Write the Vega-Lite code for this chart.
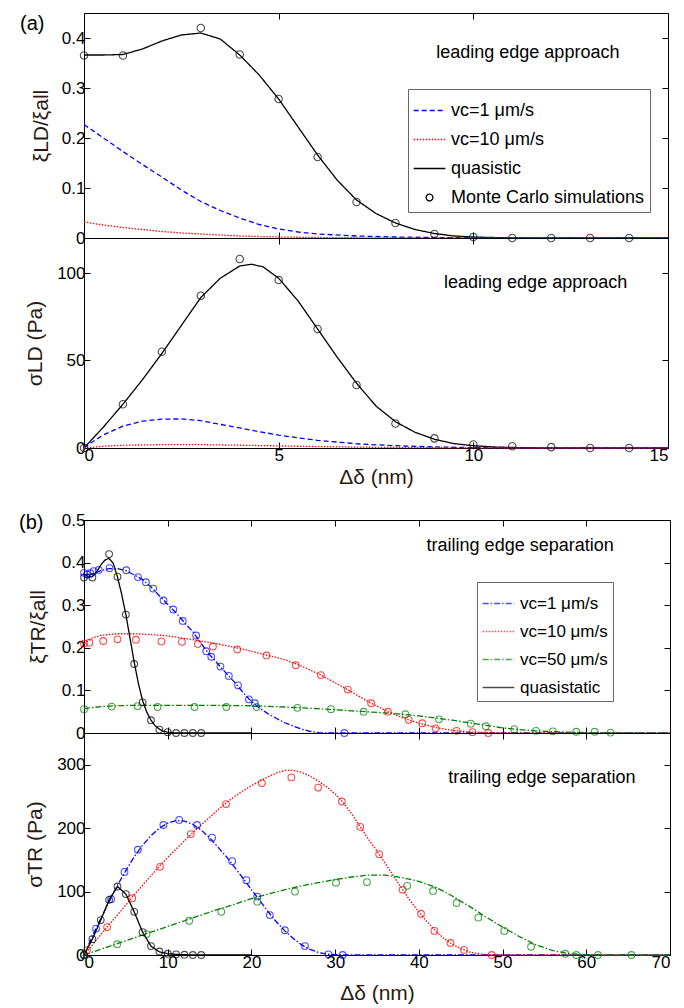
{
  "$schema": "https://vega.github.io/schema/vega-lite/v6.json",
  "background": "white",
  "padding": {"left": 18, "top": 12, "right": 10, "bottom": 4},
  "config": {
    "font": "Liberation Sans",
    "view": {"stroke": "black", "strokeWidth": 1},
    "axis": {"grid": false, "domain": false, "tickColor": "black", "tickSize": -6, "tickWidth": 1, "labelFont": "Liberation Sans", "labelFontSize": 17, "labelColor": "black", "labelPadding": 5, "titleFont": "Liberation Sans", "titleFontSize": 21, "titleFontWeight": "normal", "titleColor": "#2b1a12"},
    "legend": {"orient": "none", "title": null, "labelFont": "Liberation Sans", "labelFontSize": 18, "labelColor": "black", "labelLimit": 0, "symbolType": "stroke", "symbolSize": 1000, "symbolStrokeWidth": 1.3, "strokeColor": "#666", "fillColor": "white", "padding": 5, "labelOffset": 5, "rowPadding": 3}
  },
  "datasets": {
    "a1L": [
      {"x":0,"y":0.366,"s":"q"},{"x":0.5,"y":0.366,"s":"q"},{"x":1,"y":0.367,"s":"q"},{"x":1.5,"y":0.378,"s":"q"},{"x":2,"y":0.394,"s":"q"},{"x":2.5,"y":0.406,"s":"q"},{"x":3,"y":0.41,"s":"q"},{"x":3.5,"y":0.398,"s":"q"},{"x":4,"y":0.366,"s":"q"},{"x":4.5,"y":0.326,"s":"q"},{"x":5,"y":0.278,"s":"q"},{"x":5.5,"y":0.222,"s":"q"},{"x":6,"y":0.166,"s":"q"},{"x":6.5,"y":0.116,"s":"q"},{"x":7,"y":0.076,"s":"q"},{"x":7.5,"y":0.049,"s":"q"},{"x":8,"y":0.03,"s":"q"},{"x":8.5,"y":0.017,"s":"q"},{"x":9,"y":0.009,"s":"q"},{"x":9.5,"y":0.004,"s":"q"},{"x":10,"y":0.002,"s":"q"},{"x":10.5,"y":0.001,"s":"q"},{"x":11,"y":0,"s":"q"},{"x":15,"y":0,"s":"q"},
      {"x":0,"y":0.227,"s":"v1"},{"x":0.5,"y":0.2,"s":"v1"},{"x":1,"y":0.173,"s":"v1"},{"x":1.5,"y":0.147,"s":"v1"},{"x":2,"y":0.122,"s":"v1"},{"x":2.5,"y":0.096,"s":"v1"},{"x":3,"y":0.073,"s":"v1"},{"x":3.5,"y":0.055,"s":"v1"},{"x":4,"y":0.04,"s":"v1"},{"x":4.5,"y":0.027,"s":"v1"},{"x":5,"y":0.018,"s":"v1"},{"x":5.5,"y":0.012,"s":"v1"},{"x":6,"y":0.008,"s":"v1"},{"x":7,"y":0.004,"s":"v1"},{"x":8,"y":0.002,"s":"v1"},{"x":9,"y":0.001,"s":"v1"},{"x":10,"y":0.0005,"s":"v1"},{"x":11,"y":0,"s":"v1"},{"x":15,"y":0,"s":"v1"},
      {"x":0,"y":0.032,"s":"v10"},{"x":0.5,"y":0.026,"s":"v10"},{"x":1,"y":0.021,"s":"v10"},{"x":1.5,"y":0.017,"s":"v10"},{"x":2,"y":0.013,"s":"v10"},{"x":2.5,"y":0.01,"s":"v10"},{"x":3,"y":0.008,"s":"v10"},{"x":4,"y":0.004,"s":"v10"},{"x":5,"y":0.002,"s":"v10"},{"x":6,"y":0.001,"s":"v10"},{"x":7,"y":0.0005,"s":"v10"},{"x":8,"y":0,"s":"v10"},{"x":15,"y":0,"s":"v10"}
    ],
    "a1P": [
      {"x":0,"y":0.365,"s":"mc"},{"x":1,"y":0.365,"s":"mc"},{"x":3,"y":0.42,"s":"mc"},{"x":4,"y":0.367,"s":"mc"},{"x":5,"y":0.278,"s":"mc"},{"x":6,"y":0.162,"s":"mc"},{"x":7,"y":0.072,"s":"mc"},{"x":8,"y":0.03,"s":"mc"},{"x":9,"y":0.008,"s":"mc"},{"x":10,"y":0.002,"s":"mc"},{"x":11,"y":0,"s":"mc"},{"x":12,"y":0,"s":"mc"},{"x":13,"y":0,"s":"mc"},{"x":14,"y":0,"s":"mc"}
    ],
    "a2L": [
      {"x":0,"y":0,"s":"q"},{"x":0.5,"y":12,"s":"q"},{"x":1,"y":25,"s":"q"},{"x":1.5,"y":39,"s":"q"},{"x":2,"y":54,"s":"q"},{"x":2.5,"y":70,"s":"q"},{"x":3,"y":86,"s":"q"},{"x":3.5,"y":97,"s":"q"},{"x":4,"y":104,"s":"q"},{"x":4.3,"y":105,"s":"q"},{"x":4.6,"y":103.5,"s":"q"},{"x":5,"y":97,"s":"q"},{"x":5.5,"y":84,"s":"q"},{"x":6,"y":68,"s":"q"},{"x":6.5,"y":52,"s":"q"},{"x":7,"y":37,"s":"q"},{"x":7.5,"y":24,"s":"q"},{"x":8,"y":15,"s":"q"},{"x":8.5,"y":9,"s":"q"},{"x":9,"y":5,"s":"q"},{"x":9.5,"y":2.5,"s":"q"},{"x":10,"y":1.3,"s":"q"},{"x":10.5,"y":0.6,"s":"q"},{"x":11,"y":0.3,"s":"q"},{"x":12,"y":0,"s":"q"},{"x":15,"y":0,"s":"q"},
      {"x":0,"y":0,"s":"v1"},{"x":0.25,"y":4,"s":"v1"},{"x":0.5,"y":7.5,"s":"v1"},{"x":1,"y":12.5,"s":"v1"},{"x":1.5,"y":15.3,"s":"v1"},{"x":2,"y":16.5,"s":"v1"},{"x":2.5,"y":16.6,"s":"v1"},{"x":3,"y":15.6,"s":"v1"},{"x":3.5,"y":13.5,"s":"v1"},{"x":4,"y":11.5,"s":"v1"},{"x":4.5,"y":9.3,"s":"v1"},{"x":5,"y":7.4,"s":"v1"},{"x":5.5,"y":5.8,"s":"v1"},{"x":6,"y":4.4,"s":"v1"},{"x":7,"y":2.4,"s":"v1"},{"x":8,"y":1.3,"s":"v1"},{"x":9,"y":0.6,"s":"v1"},{"x":10,"y":0.2,"s":"v1"},{"x":11,"y":0,"s":"v1"},{"x":15,"y":0,"s":"v1"},
      {"x":0,"y":0,"s":"v10"},{"x":0.5,"y":1,"s":"v10"},{"x":1,"y":1.6,"s":"v10"},{"x":2,"y":1.9,"s":"v10"},{"x":3,"y":1.9,"s":"v10"},{"x":4,"y":1.6,"s":"v10"},{"x":5,"y":1.2,"s":"v10"},{"x":6,"y":0.8,"s":"v10"},{"x":7,"y":0.5,"s":"v10"},{"x":8,"y":0.3,"s":"v10"},{"x":9,"y":0.15,"s":"v10"},{"x":10,"y":0.05,"s":"v10"},{"x":11,"y":0,"s":"v10"},{"x":15,"y":0,"s":"v10"}
    ],
    "a2P": [
      {"x":0,"y":0,"s":"mc"},{"x":1,"y":25,"s":"mc"},{"x":2,"y":55,"s":"mc"},{"x":3,"y":87,"s":"mc"},{"x":4,"y":108,"s":"mc"},{"x":5,"y":96,"s":"mc"},{"x":6,"y":68,"s":"mc"},{"x":7,"y":36,"s":"mc"},{"x":8,"y":14,"s":"mc"},{"x":9,"y":5.5,"s":"mc"},{"x":10,"y":2,"s":"mc"},{"x":11,"y":1,"s":"mc"},{"x":12,"y":0.5,"s":"mc"},{"x":13,"y":0,"s":"mc"},{"x":14,"y":0,"s":"mc"}
    ],
    "b1L": [
      {"x":0,"y":0.37,"s":"v1"},{"x":1,"y":0.374,"s":"v1"},{"x":2,"y":0.381,"s":"v1"},{"x":3,"y":0.386,"s":"v1"},{"x":4,"y":0.386,"s":"v1"},{"x":5,"y":0.381,"s":"v1"},{"x":6,"y":0.371,"s":"v1"},{"x":7,"y":0.36,"s":"v1"},{"x":8,"y":0.343,"s":"v1"},{"x":9,"y":0.322,"s":"v1"},{"x":10,"y":0.302,"s":"v1"},{"x":11,"y":0.282,"s":"v1"},{"x":12,"y":0.259,"s":"v1"},{"x":13,"y":0.238,"s":"v1"},{"x":14,"y":0.21,"s":"v1"},{"x":15,"y":0.184,"s":"v1"},{"x":16,"y":0.162,"s":"v1"},{"x":17,"y":0.14,"s":"v1"},{"x":18,"y":0.119,"s":"v1"},{"x":19,"y":0.095,"s":"v1"},{"x":20,"y":0.074,"s":"v1"},{"x":21,"y":0.058,"s":"v1"},{"x":22,"y":0.045,"s":"v1"},{"x":23,"y":0.034,"s":"v1"},{"x":24,"y":0.024,"s":"v1"},{"x":25,"y":0.016,"s":"v1"},{"x":26,"y":0.009,"s":"v1"},{"x":27,"y":0.004,"s":"v1"},{"x":28,"y":0.001,"s":"v1"},{"x":29,"y":0,"s":"v1"},{"x":70,"y":0,"s":"v1"},
      {"x":0,"y":0.21,"s":"v10"},{"x":1,"y":0.223,"s":"v10"},{"x":2,"y":0.229,"s":"v10"},{"x":4,"y":0.233,"s":"v10"},{"x":6,"y":0.233,"s":"v10"},{"x":8,"y":0.231,"s":"v10"},{"x":10,"y":0.228,"s":"v10"},{"x":12,"y":0.222,"s":"v10"},{"x":14,"y":0.216,"s":"v10"},{"x":16,"y":0.209,"s":"v10"},{"x":18,"y":0.201,"s":"v10"},{"x":20,"y":0.192,"s":"v10"},{"x":22,"y":0.182,"s":"v10"},{"x":24,"y":0.172,"s":"v10"},{"x":26,"y":0.157,"s":"v10"},{"x":28,"y":0.139,"s":"v10"},{"x":30,"y":0.118,"s":"v10"},{"x":32,"y":0.096,"s":"v10"},{"x":34,"y":0.073,"s":"v10"},{"x":36,"y":0.053,"s":"v10"},{"x":38,"y":0.036,"s":"v10"},{"x":40,"y":0.023,"s":"v10"},{"x":42,"y":0.013,"s":"v10"},{"x":44,"y":0.006,"s":"v10"},{"x":46,"y":0.0025,"s":"v10"},{"x":48,"y":0.001,"s":"v10"},{"x":50,"y":0,"s":"v10"},{"x":70,"y":0,"s":"v10"},
      {"x":0,"y":0.057,"s":"v50"},{"x":2,"y":0.062,"s":"v50"},{"x":4,"y":0.064,"s":"v50"},{"x":6,"y":0.065,"s":"v50"},{"x":10,"y":0.065,"s":"v50"},{"x":15,"y":0.065,"s":"v50"},{"x":20,"y":0.064,"s":"v50"},{"x":24,"y":0.061,"s":"v50"},{"x":28,"y":0.057,"s":"v50"},{"x":32,"y":0.052,"s":"v50"},{"x":36,"y":0.047,"s":"v50"},{"x":38,"y":0.044,"s":"v50"},{"x":40,"y":0.04,"s":"v50"},{"x":42,"y":0.035,"s":"v50"},{"x":44,"y":0.03,"s":"v50"},{"x":46,"y":0.024,"s":"v50"},{"x":48,"y":0.018,"s":"v50"},{"x":50,"y":0.012,"s":"v50"},{"x":52,"y":0.008,"s":"v50"},{"x":54,"y":0.005,"s":"v50"},{"x":56,"y":0.003,"s":"v50"},{"x":58,"y":0.002,"s":"v50"},{"x":60,"y":0.001,"s":"v50"},{"x":62,"y":0,"s":"v50"},{"x":70,"y":0,"s":"v50"},
      {"x":0,"y":0.366,"s":"q"},{"x":0.5,"y":0.366,"s":"q"},{"x":1,"y":0.367,"s":"q"},{"x":1.5,"y":0.378,"s":"q"},{"x":2,"y":0.394,"s":"q"},{"x":2.5,"y":0.406,"s":"q"},{"x":3,"y":0.41,"s":"q"},{"x":3.5,"y":0.398,"s":"q"},{"x":4,"y":0.366,"s":"q"},{"x":4.5,"y":0.326,"s":"q"},{"x":5,"y":0.278,"s":"q"},{"x":5.5,"y":0.222,"s":"q"},{"x":6,"y":0.166,"s":"q"},{"x":6.5,"y":0.116,"s":"q"},{"x":7,"y":0.076,"s":"q"},{"x":7.5,"y":0.049,"s":"q"},{"x":8,"y":0.03,"s":"q"},{"x":8.5,"y":0.017,"s":"q"},{"x":9,"y":0.009,"s":"q"},{"x":9.5,"y":0.004,"s":"q"},{"x":10,"y":0.002,"s":"q"},{"x":11,"y":0,"s":"q"},{"x":20,"y":0,"s":"q"}
    ],
    "b1P": [
      {"x":0,"y":0.376,"s":"v1"},{"x":0.36,"y":0.372,"s":"v1"},{"x":0.76,"y":0.375,"s":"v1"},{"x":1.16,"y":0.38,"s":"v1"},{"x":1.76,"y":0.383,"s":"v1"},{"x":3.05,"y":0.387,"s":"v1"},{"x":5.05,"y":0.382,"s":"v1"},{"x":6.45,"y":0.366,"s":"v1"},{"x":7.4,"y":0.354,"s":"v1"},{"x":8.26,"y":0.339,"s":"v1"},{"x":9.5,"y":0.311,"s":"v1"},{"x":10.66,"y":0.29,"s":"v1"},{"x":11.8,"y":0.263,"s":"v1"},{"x":13.4,"y":0.229,"s":"v1"},{"x":14.6,"y":0.192,"s":"v1"},{"x":15.2,"y":0.179,"s":"v1"},{"x":16.3,"y":0.156,"s":"v1"},{"x":17.3,"y":0.134,"s":"v1"},{"x":18.4,"y":0.112,"s":"v1"},{"x":19.7,"y":0.079,"s":"v1"},{"x":20.4,"y":0.07,"s":"v1"},{"x":31.1,"y":0,"s":"v1"},
      {"x":0,"y":0.21,"s":"v10"},{"x":0.65,"y":0.212,"s":"v10"},{"x":2.3,"y":0.216,"s":"v10"},{"x":4,"y":0.22,"s":"v10"},{"x":6.2,"y":0.219,"s":"v10"},{"x":9.25,"y":0.215,"s":"v10"},{"x":11.7,"y":0.214,"s":"v10"},{"x":13.6,"y":0.209,"s":"v10"},{"x":15.4,"y":0.203,"s":"v10"},{"x":18.3,"y":0.196,"s":"v10"},{"x":21.8,"y":0.182,"s":"v10"},{"x":25.3,"y":0.159,"s":"v10"},{"x":28.3,"y":0.136,"s":"v10"},{"x":31.5,"y":0.102,"s":"v10"},{"x":34.3,"y":0.07,"s":"v10"},{"x":36.3,"y":0.05,"s":"v10"},{"x":38.8,"y":0.031,"s":"v10"},{"x":40.4,"y":0.023,"s":"v10"},{"x":42,"y":0.011,"s":"v10"},{"x":44.5,"y":0.005,"s":"v10"},{"x":46.4,"y":0.002,"s":"v10"},{"x":48.3,"y":0,"s":"v10"},
      {"x":0,"y":0.056,"s":"v50"},{"x":3.3,"y":0.062,"s":"v50"},{"x":6.4,"y":0.063,"s":"v50"},{"x":8.8,"y":0.061,"s":"v50"},{"x":13.2,"y":0.061,"s":"v50"},{"x":17,"y":0.061,"s":"v50"},{"x":20.6,"y":0.061,"s":"v50"},{"x":25.5,"y":0.059,"s":"v50"},{"x":29.5,"y":0.056,"s":"v50"},{"x":33.4,"y":0.05,"s":"v50"},{"x":38.4,"y":0.044,"s":"v50"},{"x":42.4,"y":0.032,"s":"v50"},{"x":46.2,"y":0.022,"s":"v50"},{"x":48,"y":0.016,"s":"v50"},{"x":51.4,"y":0.009,"s":"v50"},{"x":54,"y":0.005,"s":"v50"},{"x":56,"y":0.004,"s":"v50"},{"x":58.8,"y":0.003,"s":"v50"},{"x":61,"y":0.003,"s":"v50"},{"x":62.9,"y":0.001,"s":"v50"},
      {"x":0,"y":0.365,"s":"q"},{"x":1,"y":0.365,"s":"q"},{"x":3,"y":0.42,"s":"q"},{"x":4,"y":0.367,"s":"q"},{"x":5,"y":0.278,"s":"q"},{"x":6,"y":0.162,"s":"q"},{"x":7,"y":0.072,"s":"q"},{"x":8,"y":0.03,"s":"q"},{"x":9,"y":0.008,"s":"q"},{"x":10,"y":0.002,"s":"q"},{"x":11,"y":0,"s":"q"},{"x":12,"y":0,"s":"q"},{"x":13,"y":0,"s":"q"},{"x":14,"y":0,"s":"q"}
    ],
    "b2L": [
      {"x":0,"y":0,"s":"v1"},{"x":1,"y":30,"s":"v1"},{"x":2,"y":57,"s":"v1"},{"x":3,"y":84,"s":"v1"},{"x":4,"y":110,"s":"v1"},{"x":5,"y":133,"s":"v1"},{"x":6,"y":155,"s":"v1"},{"x":7,"y":173,"s":"v1"},{"x":8,"y":188,"s":"v1"},{"x":9,"y":200,"s":"v1"},{"x":10,"y":208,"s":"v1"},{"x":11,"y":212,"s":"v1"},{"x":12,"y":211,"s":"v1"},{"x":13,"y":206,"s":"v1"},{"x":14,"y":197,"s":"v1"},{"x":15,"y":185,"s":"v1"},{"x":16,"y":170,"s":"v1"},{"x":17,"y":155,"s":"v1"},{"x":18,"y":138,"s":"v1"},{"x":19,"y":121,"s":"v1"},{"x":20,"y":103,"s":"v1"},{"x":21,"y":86,"s":"v1"},{"x":22,"y":68,"s":"v1"},{"x":23,"y":52,"s":"v1"},{"x":24,"y":38,"s":"v1"},{"x":25,"y":26,"s":"v1"},{"x":26,"y":16,"s":"v1"},{"x":27,"y":9,"s":"v1"},{"x":28,"y":4,"s":"v1"},{"x":29,"y":1.5,"s":"v1"},{"x":30,"y":0.5,"s":"v1"},{"x":31,"y":0,"s":"v1"},{"x":70,"y":0,"s":"v1"},
      {"x":0,"y":0,"s":"v10"},{"x":1,"y":16,"s":"v10"},{"x":2,"y":32,"s":"v10"},{"x":3,"y":48,"s":"v10"},{"x":4,"y":63,"s":"v10"},{"x":5,"y":79,"s":"v10"},{"x":6,"y":95,"s":"v10"},{"x":7,"y":110,"s":"v10"},{"x":8,"y":125,"s":"v10"},{"x":9,"y":140,"s":"v10"},{"x":10,"y":154,"s":"v10"},{"x":11,"y":167,"s":"v10"},{"x":12,"y":180,"s":"v10"},{"x":13,"y":193,"s":"v10"},{"x":14,"y":205,"s":"v10"},{"x":15,"y":217,"s":"v10"},{"x":16,"y":229,"s":"v10"},{"x":17,"y":240,"s":"v10"},{"x":18,"y":250,"s":"v10"},{"x":19,"y":259,"s":"v10"},{"x":20,"y":267,"s":"v10"},{"x":21,"y":274,"s":"v10"},{"x":22,"y":281,"s":"v10"},{"x":23,"y":287,"s":"v10"},{"x":24,"y":291,"s":"v10"},{"x":25,"y":291,"s":"v10"},{"x":26,"y":288,"s":"v10"},{"x":27,"y":282,"s":"v10"},{"x":28,"y":274,"s":"v10"},{"x":29,"y":265,"s":"v10"},{"x":30,"y":254,"s":"v10"},{"x":31,"y":240,"s":"v10"},{"x":32,"y":222,"s":"v10"},{"x":33,"y":202,"s":"v10"},{"x":34,"y":182,"s":"v10"},{"x":35,"y":164,"s":"v10"},{"x":36,"y":144,"s":"v10"},{"x":37,"y":124,"s":"v10"},{"x":38,"y":104,"s":"v10"},{"x":39,"y":85,"s":"v10"},{"x":40,"y":68,"s":"v10"},{"x":41,"y":52,"s":"v10"},{"x":42,"y":38,"s":"v10"},{"x":43,"y":26,"s":"v10"},{"x":44,"y":17,"s":"v10"},{"x":45,"y":10,"s":"v10"},{"x":46,"y":5,"s":"v10"},{"x":47,"y":2,"s":"v10"},{"x":48,"y":0.5,"s":"v10"},{"x":49,"y":0,"s":"v10"},{"x":70,"y":0,"s":"v10"},
      {"x":0,"y":0,"s":"v50"},{"x":2,"y":9,"s":"v50"},{"x":4,"y":18,"s":"v50"},{"x":6,"y":27,"s":"v50"},{"x":8,"y":36,"s":"v50"},{"x":10,"y":45,"s":"v50"},{"x":12,"y":54,"s":"v50"},{"x":14,"y":63,"s":"v50"},{"x":16,"y":72,"s":"v50"},{"x":18,"y":80,"s":"v50"},{"x":20,"y":89,"s":"v50"},{"x":22,"y":96,"s":"v50"},{"x":24,"y":103,"s":"v50"},{"x":26,"y":109,"s":"v50"},{"x":28,"y":114,"s":"v50"},{"x":30,"y":119,"s":"v50"},{"x":32,"y":123,"s":"v50"},{"x":34,"y":126,"s":"v50"},{"x":36,"y":126,"s":"v50"},{"x":38,"y":122,"s":"v50"},{"x":40,"y":116,"s":"v50"},{"x":42,"y":107,"s":"v50"},{"x":44,"y":93,"s":"v50"},{"x":46,"y":77,"s":"v50"},{"x":48,"y":60,"s":"v50"},{"x":50,"y":44,"s":"v50"},{"x":52,"y":29,"s":"v50"},{"x":54,"y":16,"s":"v50"},{"x":56,"y":7,"s":"v50"},{"x":58,"y":2,"s":"v50"},{"x":60,"y":0.5,"s":"v50"},{"x":62,"y":0,"s":"v50"},{"x":70,"y":0,"s":"v50"},
      {"x":0,"y":0,"s":"q"},{"x":1,"y":25,"s":"q"},{"x":2,"y":55,"s":"q"},{"x":3,"y":87,"s":"q"},{"x":4,"y":108,"s":"q"},{"x":5,"y":96,"s":"q"},{"x":6,"y":68,"s":"q"},{"x":7,"y":36,"s":"q"},{"x":8,"y":14,"s":"q"},{"x":9,"y":5,"s":"q"},{"x":10,"y":2,"s":"q"},{"x":11,"y":1,"s":"q"},{"x":12,"y":0.5,"s":"q"},{"x":13,"y":0,"s":"q"},{"x":20,"y":0,"s":"q"}
    ],
    "b2P": [
      {"x":0,"y":0,"s":"v1"},{"x":1.44,"y":41.6,"s":"v1"},{"x":3.24,"y":88,"s":"v1"},{"x":4.84,"y":131,"s":"v1"},{"x":6.44,"y":166,"s":"v1"},{"x":9.48,"y":205,"s":"v1"},{"x":11.37,"y":213,"s":"v1"},{"x":13.5,"y":205,"s":"v1"},{"x":15.3,"y":185,"s":"v1"},{"x":17.7,"y":148,"s":"v1"},{"x":19.4,"y":118,"s":"v1"},{"x":20.7,"y":92,"s":"v1"},{"x":22.2,"y":63,"s":"v1"},{"x":24,"y":39,"s":"v1"},{"x":26.4,"y":14,"s":"v1"},{"x":29.2,"y":1,"s":"v1"},{"x":30.9,"y":0,"s":"v1"},
      {"x":0.36,"y":7.4,"s":"v10"},{"x":2.76,"y":44,"s":"v10"},{"x":5.76,"y":89.5,"s":"v10"},{"x":9.08,"y":139,"s":"v10"},{"x":12.76,"y":190.6,"s":"v10"},{"x":16.97,"y":238,"s":"v10"},{"x":21.25,"y":271,"s":"v10"},{"x":24.77,"y":280,"s":"v10"},{"x":27.97,"y":264,"s":"v10"},{"x":30.8,"y":242,"s":"v10"},{"x":33,"y":202,"s":"v10"},{"x":35.26,"y":159,"s":"v10"},{"x":38.06,"y":103,"s":"v10"},{"x":40.26,"y":65,"s":"v10"},{"x":41.86,"y":38,"s":"v10"},{"x":43.78,"y":19,"s":"v10"},{"x":45.4,"y":8,"s":"v10"},{"x":48.7,"y":0,"s":"v10"},
      {"x":0,"y":0,"s":"v50"},{"x":3.96,"y":17,"s":"v50"},{"x":7.48,"y":33,"s":"v50"},{"x":12.57,"y":54,"s":"v50"},{"x":16.4,"y":68,"s":"v50"},{"x":20.7,"y":84,"s":"v50"},{"x":25.2,"y":100,"s":"v50"},{"x":30.1,"y":114,"s":"v50"},{"x":33.8,"y":115,"s":"v50"},{"x":38.6,"y":109,"s":"v50"},{"x":41.7,"y":101,"s":"v50"},{"x":44.5,"y":82,"s":"v50"},{"x":47.1,"y":59,"s":"v50"},{"x":50.2,"y":38,"s":"v50"},{"x":53.4,"y":13,"s":"v50"},{"x":57.5,"y":2,"s":"v50"},{"x":58.8,"y":0,"s":"v50"},{"x":61.4,"y":0,"s":"v50"},{"x":65.4,"y":0,"s":"v50"},
      {"x":0,"y":0,"s":"q"},{"x":1,"y":25,"s":"q"},{"x":2,"y":55,"s":"q"},{"x":3,"y":87,"s":"q"},{"x":4,"y":108,"s":"q"},{"x":5,"y":96,"s":"q"},{"x":6,"y":68,"s":"q"},{"x":7,"y":36,"s":"q"},{"x":8,"y":14,"s":"q"},{"x":9,"y":5.5,"s":"q"},{"x":10,"y":2,"s":"q"},{"x":11,"y":1,"s":"q"},{"x":12,"y":0.5,"s":"q"},{"x":13,"y":0,"s":"q"},{"x":14,"y":0,"s":"q"}
    ]
  },
  "spacing": 0,
  "bounds": "flush",
  "resolve": {"scale": {"color": "independent", "strokeDash": "independent"}, "legend": {"color": "independent", "strokeDash": "independent"}},
  "vconcat": [
    {
      "width": 584, "height": 225,
      "resolve": {"axis": {"x": "independent", "y": "independent"}},
      "layer": [
        {
          "data": {"name": "a1L"},
          "mark": {"type": "line", "strokeWidth": 1.3},
          "encoding": {
            "x": {"field": "x", "type": "quantitative", "scale": {"domain": [0, 15], "nice": false, "zero": false}, "axis": {"orient": "bottom", "values": [0, 5, 10, 15], "labels": false, "title": null}},
            "y": {"field": "y", "type": "quantitative", "scale": {"domain": [0, 0.45], "nice": false}, "axis": {"orient": "left", "values": [0, 0.1, 0.2, 0.3, 0.4], "format": "~g", "title": "ξLD/ξall", "titlePadding": 10}},
            "color": {"field": "s", "type": "nominal", "scale": {"domain": ["v1", "v10", "q", "mc"], "range": ["#0000ff", "#ff0000", "#000000", "#000000"]},
              "legend": {"legendX": 324, "legendY": 76, "labelExpr": "datum.label == 'v1' ? 'vc=1 μm/s' : datum.label == 'v10' ? 'vc=10 μm/s' : datum.label == 'q' ? 'quasistic' : 'Monte Carlo simulations'",
                "encode": {"symbols": {"update": {"shape": {"signal": "datum.value == 'mc' ? 'circle' : 'stroke'"}, "size": {"signal": "datum.value == 'mc' ? 45 : 1000"}, "fill": {"value": "transparent"}}}}}},
            "strokeDash": {"field": "s", "type": "nominal", "scale": {"domain": ["v1", "v10", "q", "mc"], "range": [[5, 3], [1.5, 1.5], [1, 0], [1, 0]]},
              "legend": {"legendX": 324, "legendY": 76, "labelExpr": "datum.label == 'v1' ? 'vc=1 μm/s' : datum.label == 'v10' ? 'vc=10 μm/s' : datum.label == 'q' ? 'quasistic' : 'Monte Carlo simulations'",
                "encode": {"symbols": {"update": {"shape": {"signal": "datum.value == 'mc' ? 'circle' : 'stroke'"}, "size": {"signal": "datum.value == 'mc' ? 45 : 1000"}, "fill": {"value": "transparent"}}}}}}
          }
        },
        {
          "data": {"name": "a1P"},
          "mark": {"type": "point", "shape": "circle", "filled": false, "size": 55, "strokeWidth": 1.1},
          "encoding": {
            "x": {"field": "x", "type": "quantitative", "axis": {"orient": "top", "values": [0, 5, 10, 15], "labels": false, "title": null}},
            "y": {"field": "y", "type": "quantitative", "axis": {"orient": "right", "values": [0, 0.1, 0.2, 0.3, 0.4], "labels": false, "title": null}},
            "color": {"field": "s", "type": "nominal", "scale": {"domain": ["v1", "v10", "q", "mc"], "range": ["#0000ff", "#ff0000", "#000000", "#000000"]},
              "legend": {"legendX": 324, "legendY": 76, "labelExpr": "datum.label == 'v1' ? 'vc=1 μm/s' : datum.label == 'v10' ? 'vc=10 μm/s' : datum.label == 'q' ? 'quasistic' : 'Monte Carlo simulations'",
                "encode": {"symbols": {"update": {"shape": {"signal": "datum.value == 'mc' ? 'circle' : 'stroke'"}, "size": {"signal": "datum.value == 'mc' ? 45 : 1000"}, "fill": {"value": "transparent"}}}}}}
          }
        },
        {
          "data": {"values": [{}]},
          "mark": {"type": "text", "text": "leading edge approach", "fontSize": 18, "font": "Liberation Sans", "color": "black"},
          "encoding": {"x": {"datum": 11.4, "type": "quantitative", "axis": null}, "y": {"datum": 0.37, "type": "quantitative", "axis": null}}
        },
        {
          "data": {"values": [{}]},
          "mark": {"type": "text", "text": "(a)", "fontSize": 20, "font": "Liberation Sans", "color": "black"},
          "encoding": {"x": {"datum": -1.33, "type": "quantitative", "axis": null}, "y": {"datum": 0.428, "type": "quantitative", "axis": null}}
        }
      ]
    },
    {
      "width": 584, "height": 210,
      "resolve": {"axis": {"x": "independent", "y": "independent"}},
      "layer": [
        {
          "data": {"name": "a2L"},
          "mark": {"type": "line", "strokeWidth": 1.3},
          "encoding": {
            "x": {"field": "x", "type": "quantitative", "scale": {"domain": [0, 15], "nice": false, "zero": false}, "axis": {"orient": "bottom", "values": [0, 5, 10, 15], "title": "Δδ (nm)", "titlePadding": 3}},
            "y": {"field": "y", "type": "quantitative", "scale": {"domain": [0, 120], "nice": false}, "axis": {"orient": "left", "values": [0, 50, 100], "title": "σLD (Pa)", "titlePadding": 11}},
            "color": {"field": "s", "type": "nominal", "scale": {"domain": ["v1", "v10", "q", "mc"], "range": ["#0000ff", "#ff0000", "#000000", "#000000"]}, "legend": null},
            "strokeDash": {"field": "s", "type": "nominal", "scale": {"domain": ["v1", "v10", "q", "mc"], "range": [[5, 3], [1.5, 1.5], [1, 0], [1, 0]]}, "legend": null}
          }
        },
        {
          "data": {"name": "a2P"},
          "mark": {"type": "point", "shape": "circle", "filled": false, "size": 55, "strokeWidth": 1.1},
          "encoding": {
            "x": {"field": "x", "type": "quantitative", "axis": {"orient": "top", "values": [0, 5, 10, 15], "labels": false, "title": null}},
            "y": {"field": "y", "type": "quantitative", "axis": {"orient": "right", "values": [0, 50, 100], "labels": false, "title": null}},
            "color": {"field": "s", "type": "nominal", "scale": {"domain": ["v1", "v10", "q", "mc"], "range": ["#0000ff", "#ff0000", "#000000", "#000000"]}, "legend": null}
          }
        },
        {
          "data": {"values": [{}]},
          "mark": {"type": "text", "text": "leading edge approach", "fontSize": 18, "font": "Liberation Sans", "color": "black"},
          "encoding": {"x": {"datum": 11.6, "type": "quantitative", "axis": null}, "y": {"datum": 94.5, "type": "quantitative", "axis": null}}
        }
      ]
    },
    {
      "width": 584, "height": 72,
      "view": {"stroke": null},
      "data": {"values": []},
      "mark": {"type": "point"},
      "encoding": {}
    },
    {
      "width": 586, "height": 213,
      "resolve": {"axis": {"x": "independent", "y": "independent"}},
      "layer": [
        {
          "data": {"name": "b1L"},
          "mark": {"type": "line", "strokeWidth": 1.3},
          "encoding": {
            "x": {"field": "x", "type": "quantitative", "scale": {"domain": [0, 70], "nice": false, "zero": false}, "axis": {"orient": "bottom", "values": [0, 10, 20, 30, 40, 50, 60, 70], "labels": false, "title": null}},
            "y": {"field": "y", "type": "quantitative", "scale": {"domain": [0, 0.5], "nice": false}, "axis": {"orient": "left", "values": [0, 0.1, 0.2, 0.3, 0.4, 0.5], "format": "~g", "title": "ξTR/ξall", "titlePadding": 13}},
            "color": {"field": "s", "type": "nominal", "scale": {"domain": ["v1", "v10", "v50", "q"], "range": ["#0000ff", "#ff0000", "#008000", "#000000"]},
              "legend": {"legendX": 393, "legendY": 62, "labelFontSize": 17, "labelExpr": "datum.label == 'v1' ? 'vc=1 μm/s' : datum.label == 'v10' ? 'vc=10 μm/s' : datum.label == 'v50' ? 'vc=50 μm/s' : 'quasistatic'"}},
            "strokeDash": {"field": "s", "type": "nominal", "scale": {"domain": ["v1", "v10", "v50", "q"], "range": [[6, 2, 1.5, 2], [1.5, 1.5], [6, 2, 1.5, 2], [1, 0]]},
              "legend": {"legendX": 393, "legendY": 62, "labelFontSize": 17, "labelExpr": "datum.label == 'v1' ? 'vc=1 μm/s' : datum.label == 'v10' ? 'vc=10 μm/s' : datum.label == 'v50' ? 'vc=50 μm/s' : 'quasistatic'"}}
          }
        },
        {
          "data": {"name": "b1P"},
          "mark": {"type": "point", "shape": "circle", "filled": false, "size": 45, "strokeWidth": 1.1},
          "encoding": {
            "x": {"field": "x", "type": "quantitative", "axis": {"orient": "top", "values": [0, 10, 20, 30, 40, 50, 60, 70], "labels": false, "title": null}},
            "y": {"field": "y", "type": "quantitative", "axis": {"orient": "right", "values": [0, 0.1, 0.2, 0.3, 0.4, 0.5], "labels": false, "title": null}},
            "color": {"field": "s", "type": "nominal", "scale": {"domain": ["v1", "v10", "v50", "q"], "range": ["#0000ff", "#ff0000", "#008000", "#000000"]},
              "legend": {"legendX": 393, "legendY": 62, "labelFontSize": 17, "labelExpr": "datum.label == 'v1' ? 'vc=1 μm/s' : datum.label == 'v10' ? 'vc=10 μm/s' : datum.label == 'v50' ? 'vc=50 μm/s' : 'quasistatic'"}}
          }
        },
        {
          "data": {"values": [{}]},
          "mark": {"type": "text", "text": "trailing edge separation", "fontSize": 18, "font": "Liberation Sans", "color": "black"},
          "encoding": {"x": {"datum": 52.1, "type": "quantitative", "axis": null}, "y": {"datum": 0.439, "type": "quantitative", "axis": null}}
        },
        {
          "data": {"values": [{}]},
          "mark": {"type": "text", "text": "(b)", "fontSize": 20, "font": "Liberation Sans", "color": "black"},
          "encoding": {"x": {"datum": -6.3, "type": "quantitative", "axis": null}, "y": {"datum": 0.494, "type": "quantitative", "axis": null}}
        }
      ]
    },
    {
      "width": 586, "height": 222,
      "resolve": {"axis": {"x": "independent", "y": "independent"}},
      "layer": [
        {
          "data": {"name": "b2L"},
          "mark": {"type": "line", "strokeWidth": 1.3},
          "encoding": {
            "x": {"field": "x", "type": "quantitative", "scale": {"domain": [0, 70], "nice": false, "zero": false}, "axis": {"orient": "bottom", "values": [0, 10, 20, 30, 40, 50, 60, 70], "title": "Δδ (nm)", "titlePadding": 12}},
            "y": {"field": "y", "type": "quantitative", "scale": {"domain": [0, 350], "nice": false}, "axis": {"orient": "left", "values": [0, 100, 200, 300], "title": "σTR (Pa)", "titlePadding": 11}},
            "color": {"field": "s", "type": "nominal", "scale": {"domain": ["v1", "v10", "v50", "q"], "range": ["#0000ff", "#ff0000", "#008000", "#000000"]}, "legend": null},
            "strokeDash": {"field": "s", "type": "nominal", "scale": {"domain": ["v1", "v10", "v50", "q"], "range": [[6, 2, 1.5, 2], [1.5, 1.5], [6, 2, 1.5, 2], [1, 0]]}, "legend": null}
          }
        },
        {
          "data": {"name": "b2P"},
          "mark": {"type": "point", "shape": "circle", "filled": false, "size": 45, "strokeWidth": 1.1},
          "encoding": {
            "x": {"field": "x", "type": "quantitative", "axis": {"orient": "top", "values": [0, 10, 20, 30, 40, 50, 60, 70], "labels": false, "title": null}},
            "y": {"field": "y", "type": "quantitative", "axis": {"orient": "right", "values": [0, 100, 200, 300], "labels": false, "title": null}},
            "color": {"field": "s", "type": "nominal", "scale": {"domain": ["v1", "v10", "v50", "q"], "range": ["#0000ff", "#ff0000", "#008000", "#000000"]}, "legend": null}
          }
        },
        {
          "data": {"values": [{}]},
          "mark": {"type": "text", "text": "trailing edge separation", "fontSize": 18, "font": "Liberation Sans", "color": "black"},
          "encoding": {"x": {"datum": 54.7, "type": "quantitative", "axis": null}, "y": {"datum": 278.5, "type": "quantitative", "axis": null}}
        }
      ]
    }
  ]
}
